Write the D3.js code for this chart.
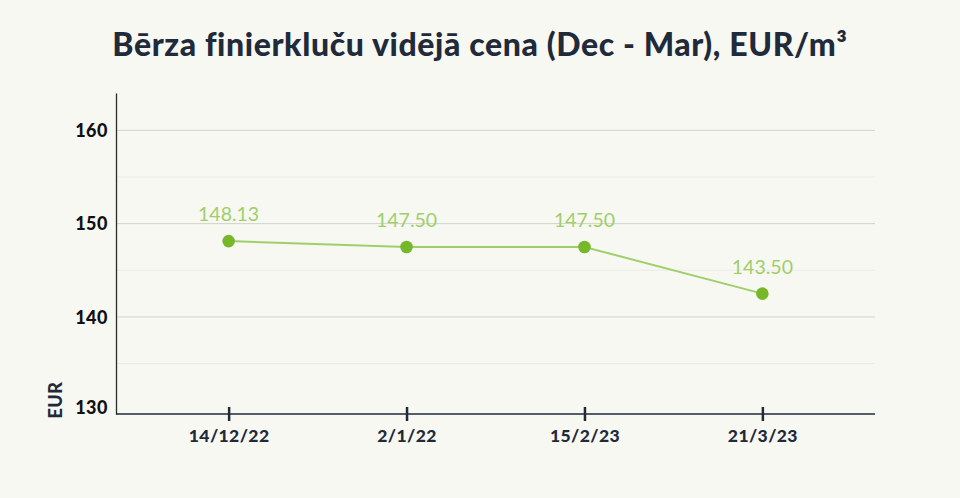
<!DOCTYPE html>
<html>
<head>
<meta charset="utf-8">
<script src="https://cdn.jsdelivr.net/npm/d3@7"></script>
<style>
  body { margin: 0; background: #f8f8f3; }
  svg { display: block; font-family: Lato, "Open Sans", sans-serif; }
</style>
</head>
<body>
<div id="chart"></div>
<script>
// chart data
const title = "Bērza finierkluču vidējā cena (Dec - Mar), EUR/m³"
const dates = ["14/12/22", "2/1/22", "15/2/23", "21/3/23"]
const prices = [148.13, 147.5, 147.5, 142.5]
const priceLabels = ["148.13", "147.50", "147.50", "143.50"]
const yTicks = [130, 140, 150, 160]
const yMinorTicks = [135, 145, 155]

const width = 960, height = 498
const margin = { top: 93, right: 85, bottom: 84, left: 116 }

const svg = d3.select('#chart').append('svg')
  .attr('width', width)
  .attr('height', height)

svg.append('rect')
  .attr('width', width)
  .attr('height', height)
  .attr('fill', '#f8f8f3')

svg.append('text')
  .attr('x', width / 2)
  .attr('y', 56)
  .attr('text-anchor', 'middle')
  .style('font-size', '32px')
  .style('font-weight', 900)
  .style('letter-spacing', '0.6px')
  .style('fill', '#1f2a3a')
  .text(title)

const x = d3.scalePoint()
  .domain(dates)
  .range([margin.left, width - margin.right])
  .padding(0.633)
  .align(0.5)

const y = d3.scaleLinear()
  .domain([129.6, 164])
  .range([height - margin.bottom, margin.top])

// gridlines
svg.append('g')
  .selectAll('line.minor')
  .data(yMinorTicks)
  .join('line')
  .attr('x1', margin.left)
  .attr('x2', width - margin.right)
  .attr('y1', d => y(d))
  .attr('y2', d => y(d))
  .attr('stroke', '#ececE6')
  .attr('stroke-width', 1)

svg.append('g')
  .selectAll('line.major')
  .data(yTicks.filter(d => d > 130))
  .join('line')
  .attr('x1', margin.left)
  .attr('x2', width - margin.right)
  .attr('y1', d => y(d))
  .attr('y2', d => y(d))
  .attr('stroke', '#d3d3cd')
  .attr('stroke-width', 1)

// y axis
const yAxis = svg.append('g')
  .attr('transform', `translate(${margin.left},0)`)
  .call(d3.axisLeft(y).tickValues(yTicks).tickSize(0).tickPadding(8))
yAxis.select('.domain').attr('stroke', '#2a2a2a').attr('stroke-width', 1.3)
yAxis.selectAll('text')
  .attr('dy', '0.35em')
  .style('font-family', 'Lato, sans-serif')
  .style('font-size', '18px')
  .style('font-weight', 900)
  .style('letter-spacing', '0.5px')
  .style('fill', '#111')
// keep the 130 label sitting just above the base line
yAxis.selectAll('.tick').filter(d => d === 130).select('text').attr('y', -3)

// x axis
const xAxis = svg.append('g')
  .attr('transform', `translate(0,${height - margin.bottom})`)
  .call(d3.axisBottom(x).tickSize(0).tickPadding(16))
xAxis.select('.domain')
  .attr('d', `M${margin.left},0H${width - margin.right}`)
  .attr('stroke', '#1f2a3a')
  .attr('stroke-width', 1.3)
xAxis.selectAll('.tick').append('line')
  .attr('y1', -7)
  .attr('y2', 7)
  .attr('stroke', '#1f2a3a')
  .attr('stroke-width', 2.5)
xAxis.selectAll('text')
  .style('font-family', 'Lato, sans-serif')
  .style('font-size', '17.5px')
  .style('font-weight', 900)
  .style('letter-spacing', '0.4px')
  .style('fill', '#1f2a3a')

svg.append('text')
  .attr('transform', `translate(62,400) rotate(-90)`)
  .attr('text-anchor', 'middle')
  .style('font-size', '18px')
  .style('font-weight', 900)
  .style('letter-spacing', '0.5px')
  .style('fill', '#1f2a3a')
  .text('EUR')

// line + points
const line = d3.line()
  .x((d, i) => x(dates[i]))
  .y(d => y(d))

svg.append('path')
  .datum(prices)
  .attr('d', line)
  .attr('fill', 'none')
  .attr('stroke', '#9fcf6a')
  .attr('stroke-width', 2)

svg.append('g')
  .selectAll('circle')
  .data(prices)
  .join('circle')
  .attr('cx', (d, i) => x(dates[i]))
  .attr('cy', d => y(d))
  .attr('r', 6.3)
  .attr('fill', '#77b82b')

svg.append('g')
  .selectAll('text')
  .data(prices)
  .join('text')
  .attr('x', (d, i) => x(dates[i]))
  .attr('y', d => y(d) - 20)
  .attr('text-anchor', 'middle')
  .style('font-size', '19.5px')
  .style('fill', '#9fcf6a')
  .text((d, i) => priceLabels[i])
</script>
</body>
</html>
